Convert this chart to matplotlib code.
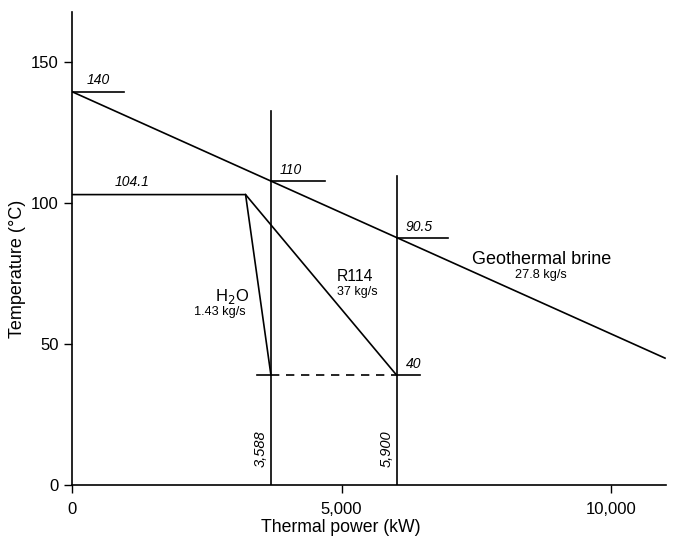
import numpy as np
import matplotlib.pyplot as plt

plt.rcParams['font.family'] = ['Liberation Sans', 'DejaVu Sans']

# brine line (x in kW, T in degC)
brine_x = [0, 11000]
brine_t = [139.5, 45]

# H2O and R114 profiles
h2o_x = [0, 3220, 3690]
h2o_t = [103, 103, 39]
r114_x = [3220, 6020]
r114_t = [103, 39]

# pinch verticals and heights
vert_x = [3690, 6020]
vert_top = [132.6, 109.6]
vert_labels = ['3,588', '5,900']

# short horizontal value marks
mark_x0 = [0, 3690, 6020]
mark_x1 = [965, 4690, 6980]
mark_t = [139.5, 107.8, 87.7]
mark_labels = ['140', '110', '90.5']
mark_off = [280, 170, 170]

# 40 degC line
cold_t = 39
cold_x = [3430, 6450]

fig = plt.figure(figsize=(6.79, 5.41), dpi=100)
ax = fig.add_axes([0.106, 0.1035, 0.875, 0.874])

lw = 1.2
ax.plot(brine_x, brine_t, color='black', lw=lw)
ax.plot(h2o_x, h2o_t, color='black', lw=lw)
ax.plot(r114_x, r114_t, color='black', lw=lw)

for x, top, lab in zip(vert_x, vert_top, vert_labels):
    ax.plot([x, x], [0, top], color='black', lw=lw)
    ax.text(x - 190, 13, lab, rotation=90, style='italic', fontsize=10.5,
            ha='center', va='center')

for x0, x1, t, lab, off in zip(mark_x0, mark_x1, mark_t, mark_labels, mark_off):
    ax.plot([x0, x1], [t, t], color='black', lw=lw)
    ax.text(x0 + off, t + 1.5, lab, style='italic', fontsize=10,
            ha='left', va='bottom')

ax.text(800, 105, '104.1', style='italic', fontsize=10, ha='left', va='bottom')

# 40 line: solid stubs, dashed between
ax.plot([cold_x[0], vert_x[0]], [cold_t, cold_t], color='black', lw=lw)
ax.plot([vert_x[0], vert_x[1]], [cold_t, cold_t], color='black', lw=lw,
        ls=(0, (5, 4)))
ax.plot([vert_x[1], cold_x[1]], [cold_t, cold_t], color='black', lw=lw)
ax.text(vert_x[1] + 170, cold_t + 1.5, '40', style='italic', fontsize=10,
        ha='left', va='bottom')

ax.text(2970, 67, 'H$_2$O', fontsize=12, ha='center', va='center')
ax.text(2750, 61.3, '1.43 kg/s', fontsize=9.2, ha='center', va='center')
ax.text(5250, 74.1, 'R114', fontsize=11.3, ha='center', va='center')
ax.text(5290, 68.4, '37 kg/s', fontsize=9, ha='center', va='center')
ax.text(8720, 80.1, 'Geothermal brine', fontsize=13, ha='center', va='center')
ax.text(8700, 74.5, '27.8 kg/s', fontsize=9.2, ha='center', va='center')

ax.set_xlim(0, 11020)
ax.set_ylim(0, 167.7)
ax.set_xticks([0, 5000, 10000])
ax.set_xticklabels(['0', '5,000', '10,000'])
ax.set_yticks([0, 50, 100, 150])
ax.tick_params(labelsize=12, length=6, width=1)
ax.tick_params(axis='x', pad=6)
ax.spines['top'].set_visible(False)
ax.spines['right'].set_visible(False)
ax.spines['left'].set_linewidth(1.2)
ax.spines['bottom'].set_linewidth(1.2)
ax.set_xlabel('Thermal power (kW)', fontsize=12.7, va='center')
ax.xaxis.set_label_coords(0.453, -0.089)
ax.set_ylabel('Temperature (°C)', fontsize=13, va='center')
ax.yaxis.set_label_coords(-0.091, 0.457)

fig.savefig('out.png', dpi=100)
